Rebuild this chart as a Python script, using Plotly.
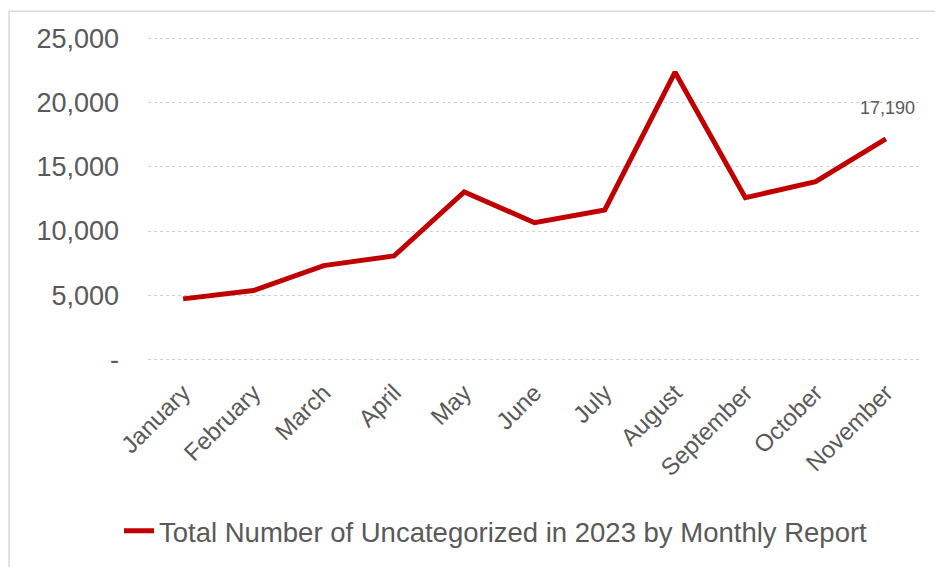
import plotly.graph_objects as go

months = ["January", "February", "March", "April", "May", "June", "July",
          "August", "September", "October", "November"]
values = [4700, 5350, 7300, 8050, 13050, 10650, 11650, 22400, 12600, 13850, 17190]
series_name = "Total Number of Uncategorized in 2023 by Monthly Report"
y_ticks = [0, 5000, 10000, 15000, 20000, 25000]
y_tick_text = ["-", "5,000", "10,000", "15,000", "20,000", "25,000"]

W, H = 935, 567
L, R, T, B = 148, 14, 37, 202
pw, ph = W - L - R, H - T - B

def px(x):
    return (x - L) / pw

def py(y):
    return (H - B - y) / ph

fig = go.Figure()
fig.add_trace(go.Scatter(
    x=months, y=values, mode="lines", name=series_name,
    line=dict(color="#C00000", width=5),
))

fig.add_annotation(
    x=months[-1], y=values[-1], text=f"{values[-1]:,}",
    showarrow=False, yshift=31, xshift=2,
    font=dict(family="Liberation Sans", size=18, color="#595959"),
)

fig.add_shape(type="rect", xref="paper", yref="paper",
              x0=px(9), y0=py(11), x1=px(945), y1=py(580),
              line=dict(color="#D9D9D9", width=1.5), layer="below")

fig.update_layout(
    width=W, height=H,
    margin=dict(l=L, r=R, t=T, b=B),
    paper_bgcolor="white", plot_bgcolor="white",
    font=dict(family="Liberation Sans", color="#595959"),
    showlegend=True,
    legend=dict(orientation="h", x=px(119), y=py(537), xanchor="left", yanchor="middle",
                font=dict(size=27.5, color="#595959"), bgcolor="rgba(0,0,0,0)"),
    xaxis=dict(
        type="category", range=[-0.5, len(months) - 0.5],
        tickangle=-45, tickfont=dict(size=24, color="#595959"),
        showgrid=False, showline=False, zeroline=False, ticks="",
        ticklabelstandoff=12,
    ),
    yaxis=dict(
        range=[-150, 25150], tickvals=y_ticks, ticktext=y_tick_text,
        tickfont=dict(size=27, color="#595959"),
        showgrid=True, gridcolor="#D0D0D0", gridwidth=1, griddash="dot",
        zeroline=False, showline=False, ticks="",
        ticklabelstandoff=28,
    ),
)

fig.write_html("out.html")
